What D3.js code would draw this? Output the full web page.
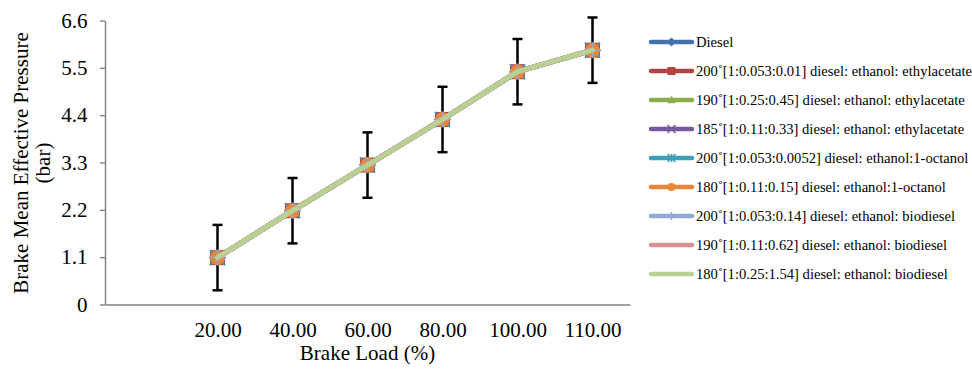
<!DOCTYPE html>
<html>
<head>
<meta charset="utf-8">
<script src="https://cdn.jsdelivr.net/npm/d3@7"></script>
<style>
  html, body { margin: 0; padding: 0; background: #fff; }
  svg { display: block; }
</style>
</head>
<body>
<svg id="chart" width="972" height="370" font-family="'Times New Roman', 'Liberation Serif', 'DejaVu Serif', serif"></svg>
<script>
// ---- Data ----
const categories = ["20.00", "40.00", "60.00", "80.00", "100.00", "110.00"];
const yTicks = [0, 1.1, 2.2, 3.3, 4.4, 5.5, 6.6];
const seriesNames = [
  "Diesel",
  "200˚[1:0.053:0.01] diesel: ethanol: ethylacetate",
  "190˚[1:0.25:0.45] diesel: ethanol: ethylacetate",
  "185˚[1:0.11:0.33] diesel: ethanol: ethylacetate",
  "200˚[1:0.053:0.0052] diesel: ethanol:1-octanol",
  "180˚[1:0.11:0.15] diesel: ethanol:1-octanol",
  "200˚[1:0.053:0.14] diesel: ethanol: biodiesel",
  "190˚[1:0.11:0.62] diesel: ethanol: biodiesel",
  "180˚[1:0.25:1.54] diesel: ethanol: biodiesel"
];
const diesel = [1.09, 2.18, 3.24, 4.30, 5.41, 5.91];
const ea200 = [1.09, 2.18, 3.24, 4.30, 5.41, 5.91];
const ea190 = [1.09, 2.18, 3.24, 4.30, 5.41, 5.91];
const ea185 = [1.09, 2.18, 3.24, 4.30, 5.41, 5.91];
const oct200 = [1.09, 2.18, 3.24, 4.30, 5.41, 5.91];
const oct180 = [1.09, 2.18, 3.24, 4.30, 5.41, 5.91];
const bio200 = [1.09, 2.18, 3.24, 4.30, 5.41, 5.91];
const bio190 = [1.09, 2.18, 3.24, 4.30, 5.41, 5.91];
const bio180 = [1.09, 2.18, 3.24, 4.30, 5.41, 5.91];
const errorValues = [0.76, 0.76, 0.76, 0.76, 0.76, 0.76];

const seriesValues = [diesel, ea200, ea190, ea185, oct200, oct180, bio200, bio190, bio180];
const colors = ["#4470AE", "#B3433F", "#8DAC4C", "#75599B", "#3F9EB9", "#E8853C", "#8EAAD8", "#D7918F", "#B9D093"];
const markers = ["diamond", "square", "triangle", "x", "star", "circle", "plus", "none", "none"];

// ---- Layout ----
const FONT = "'Times New Roman', 'Liberation Serif', 'DejaVu Serif', serif";
const AXIS_FS = 21;
const svg = d3.select("#chart");
const x0 = 105, x1 = 630, yTop = 20.5, yBot = 304.5;

const y = d3.scaleLinear().domain([0, 6.6]).range([yBot, yTop]);
const x = d3.scalePoint().domain(["", ...categories]).range([x0, x1]).padding(0.5);

// Y axis
const yAxis = svg.append("g").attr("transform", `translate(${x0},0)`)
  .call(d3.axisLeft(y).tickValues(yTicks).tickFormat(d => d === 0 ? "0" : d3.format(".1f")(d)).tickSize(5).tickSizeOuter(0).tickPadding(12.5));
yAxis.attr("font-family", FONT).attr("font-size", AXIS_FS);
yAxis.select(".domain").attr("stroke", "#868686").attr("stroke-width", 1.5);
yAxis.selectAll(".tick line").attr("stroke", "#868686").attr("stroke-width", 1.5);
yAxis.selectAll(".tick text").attr("fill", "#000");

// X axis
const xAxis = svg.append("g").attr("transform", `translate(0,${yBot})`)
  .call(d3.axisBottom(x).tickValues(categories).tickSize(0).tickSizeOuter(0).tickPadding(17.5));
xAxis.attr("font-family", FONT).attr("font-size", AXIS_FS);
xAxis.select(".domain").attr("stroke", "#868686").attr("stroke-width", 1.5);
xAxis.selectAll(".tick text").attr("fill", "#000");

// Axis titles
svg.append("text").attr("x", (x0 + x1) / 2).attr("y", 360).attr("text-anchor", "middle")
  .attr("font-size", AXIS_FS).text("Brake Load (%)");
const yt = svg.append("text").attr("transform", `translate(28,163) rotate(-90)`).attr("text-anchor", "middle").attr("font-size", AXIS_FS);
yt.append("tspan").attr("x", 0).attr("dy", 0).text("Brake Mean Effective Pressure");
yt.append("tspan").attr("x", 0).attr("dy", 22).text("(bar)");

// Marker drawing
function drawMarker(g, type, cx, cy, s, color) {
  const h = s / 2;
  if (type === "diamond") {
    g.append("path").attr("d", `M${cx},${cy - h * 1.15}L${cx + h * 1.15},${cy}L${cx},${cy + h * 1.15}L${cx - h * 1.15},${cy}Z`).attr("fill", color);
  } else if (type === "square") {
    g.append("rect").attr("x", cx - h).attr("y", cy - h).attr("width", s).attr("height", s).attr("fill", color);
  } else if (type === "triangle") {
    g.append("path").attr("d", `M${cx},${cy - h * 1.1}L${cx + h},${cy + h * 0.8}L${cx - h},${cy + h * 0.8}Z`).attr("fill", color);
  } else if (type === "x") {
    g.append("path").attr("d", `M${cx - h},${cy - h}L${cx + h},${cy + h}M${cx - h},${cy + h}L${cx + h},${cy - h}`).attr("stroke", color).attr("stroke-width", 1.5);
  } else if (type === "star") {
    g.append("path").attr("d", `M${cx - h},${cy - h}L${cx + h},${cy + h}M${cx - h},${cy + h}L${cx + h},${cy - h}M${cx},${cy - h}L${cx},${cy + h}`).attr("stroke", color).attr("stroke-width", 1.5);
  } else if (type === "circle") {
    g.append("circle").attr("cx", cx).attr("cy", cy).attr("r", h).attr("fill", color);
  } else if (type === "plus") {
    g.append("path").attr("d", `M${cx},${cy - h}L${cx},${cy + h}M${cx - h},${cy}L${cx + h},${cy}`).attr("stroke", color).attr("stroke-width", 1.5);
  }
}

// Error bars (drawn below series)
const eb = svg.append("g");
categories.forEach((c, i) => {
  const cx = x(c);
  const v = diesel[i], e = errorValues[i];
  eb.append("line").attr("x1", cx).attr("x2", cx).attr("y1", y(v + e)).attr("y2", y(v - e)).attr("stroke", "#000").attr("stroke-width", 2.5);
  [v + e, v - e].forEach(t => eb.append("line").attr("x1", cx - 5).attr("x2", cx + 5).attr("y1", y(t)).attr("y2", y(t)).attr("stroke", "#000").attr("stroke-width", 2.5));
});

// Series
const line = d3.line().x((d, i) => x(categories[i])).y(d => y(d));
seriesValues.forEach((vals, si) => {
  const g = svg.append("g");
  g.append("path").datum(vals).attr("d", line).attr("fill", "none")
    .attr("stroke", colors[si]).attr("stroke-width", 5).attr("stroke-linejoin", "round").attr("stroke-linecap", "round");
  vals.forEach((v, i) => drawMarker(g, markers[si], x(categories[i]), y(v), 15, colors[si]));
});

// Legend
const lg = svg.append("g");
const legendY0 = 42, legendStep = 29;
seriesNames.forEach((name, si) => {
  const ly = legendY0 + si * legendStep;
  lg.append("line").attr("x1", 651).attr("x2", 692).attr("y1", ly).attr("y2", ly)
    .attr("stroke", colors[si]).attr("stroke-width", 4.5).attr("stroke-linecap", "round");
  drawMarker(lg, markers[si], 671.5, ly, 8, colors[si]);
  lg.append("text").attr("x", 696).attr("y", ly + 4.5).attr("font-size", 14.6).text(name);
});
</script>
</body>
</html>
